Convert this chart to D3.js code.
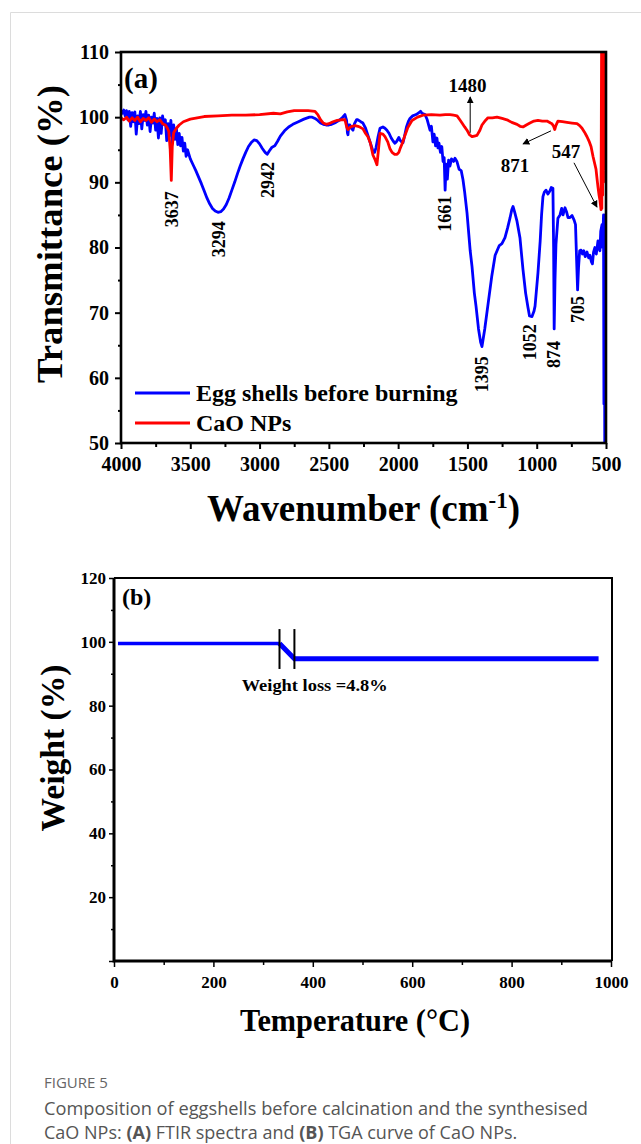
<!DOCTYPE html>
<meta charset="utf-8">
<style>
  body { margin: 0; background: #fff; }
  svg text { font-family: "Liberation Serif", "Times New Roman", serif; font-weight: bold; fill: #000; }
  svg .caption text { font-family: "Open Sans", "Noto Sans", sans-serif; font-weight: normal; fill: #555; }
</style>
<body>
<script src="https://d3js.org/d3.v7.min.js"></script>
<script>

// ---- panel (a) FTIR data: [wavenumber cm-1, transmittance %]
const eggShells = [
  [4000,101.0],[3990,100.6],[3980,101.1],[3970,100.2],[3960,101.0],[3950,99.6],[3940,100.9],[3930,98.6],
  [3920,100.7],[3910,99.3],[3900,100.8],[3890,97.4],[3880,100.2],[3870,99.0],[3860,100.9],[3850,98.2],
  [3840,100.4],[3830,99.5],[3820,100.9],[3810,98.8],[3800,100.3],[3790,97.8],[3780,100.0],[3770,99.1],
  [3760,100.6],[3750,98.0],[3740,99.8],[3730,96.8],[3720,99.9],[3710,97.5],[3700,100.2],[3690,98.9],
  [3680,99.6],[3670,96.4],[3660,99.0],[3650,97.2],[3640,99.5],[3630,96.0],[3620,98.8],[3610,96.6],
  [3600,98.2],[3590,95.8],[3580,97.5],[3570,95.6],[3560,96.9],[3550,94.8],[3540,96.0],[3530,94.0],
  [3520,95.0],[3500,93.6],[3480,92.7],[3460,91.8],[3440,90.8],[3420,89.8],[3400,88.7],[3380,87.6],
  [3360,86.7],[3340,86.0],[3320,85.6],[3300,85.4],[3280,85.5],[3260,85.9],[3240,86.6],[3220,87.6],
  [3200,88.8],[3180,90.0],[3160,91.3],[3140,92.5],[3120,93.6],[3100,94.6],[3080,95.5],[3060,96.1],
  [3040,96.5],[3020,96.4],[3000,95.9],[2980,95.2],[2960,94.6],[2945,94.3],[2930,94.8],[2910,95.4],
  [2890,95.6],[2870,96.3],[2850,97.1],[2820,97.9],[2790,98.5],[2760,98.9],[2720,99.3],[2680,99.7],
  [2640,100.0],[2620,100.0],[2600,99.8],[2580,99.5],[2560,99.1],[2540,98.9],[2520,98.8],[2500,98.8],
  [2480,98.9],[2450,99.2],[2420,99.6],[2400,100.0],[2384,100.4],[2372,99.5],[2366,97.6],[2362,97.3],
  [2356,98.8],[2348,98.8],[2338,98.3],[2326,98.0],[2315,99.0],[2300,99.6],[2290,99.6],[2270,99.3],
  [2254,99.1],[2235,98.3],[2218,97.2],[2200,96.0],[2185,95.0],[2170,94.6],[2160,95.3],[2145,97.0],
  [2131,98.3],[2110,98.5],[2095,98.3],[2081,98.0],[2065,97.5],[2050,96.8],[2035,96.3],[2023,96.0],
  [2010,96.3],[1995,96.9],[1987,96.5],[1975,96.2],[1965,96.1],[1955,97.0],[1940,98.5],[1925,99.4],
  [1915,99.8],[1895,100.2],[1870,100.4],[1850,100.7],[1838,100.9],[1828,100.6],[1806,100.4],[1790,99.6],
  [1770,98.0],[1760,98.6],[1749,96.2],[1740,97.4],[1730,95.6],[1720,96.8],[1713,95.3],[1705,96.0],
  [1695,94.6],[1685,95.5],[1676,93.2],[1668,93.8],[1661,88.8],[1654,92.8],[1645,90.5],[1636,93.4],
  [1626,92.5],[1615,93.6],[1600,93.2],[1590,93.7],[1576,93.2],[1560,92.0],[1545,91.8],[1532,90.4],
  [1520,88.5],[1503,85.3],[1490,82.0],[1480,79.5],[1467,77.1],[1450,73.0],[1438,71.0],[1420,67.5],
  [1405,65.5],[1395,64.8],[1375,67.5],[1350,71.5],[1325,75.5],[1300,78.8],[1270,80.3],[1251,80.6],
  [1229,81.5],[1210,83.0],[1193,84.5],[1180,85.8],[1171,86.3],[1160,85.5],[1142,84.0],[1121,81.5],
  [1099,76.6],[1080,73.0],[1063,70.8],[1052,69.5],[1034,69.4],[1020,70.2],[1012,71.0],[991,76.1],
  [975,81.0],[965,85.0],[955,87.8],[945,88.5],[933,88.8],[919,88.2],[904,88.7],[895,89.2],
  [883,89.1],[878,80.0],[874,67.5],[868,75.0],[861,80.5],[847,84.5],[832,85.0],[820,86.0],
  [810,85.0],[796,86.1],[785,85.5],[774,84.6],[760,84.6],[745,84.9],[730,84.2],[720,83.5],
  [712,78.0],[705,73.5],[698,77.0],[690,79.5],[680,79.6],[670,79.0],[660,79.5],[650,78.6],
  [637,79.3],[625,78.4],[616,78.8],[605,77.8],[598,77.5],[590,79.3],[580,80.0],[570,79.0],
  [558,81.0],[550,79.8],[544,79.5],[538,82.5],[529,83.5],[524,80.0],[518,85.0],[515,56.0],
  [512,84.0],[509,50.0],[506,85.0],[503,50.0],[500,50.0]
];

const caoNPs = [
  [4000,99.9],[3980,99.6],[3960,100.0],[3940,99.4],[3920,99.9],[3900,99.5],[3880,100.0],[3860,99.3],
  [3840,99.8],[3820,99.5],[3800,99.9],[3780,99.2],[3760,99.7],[3740,99.3],[3720,99.6],[3700,99.0],
  [3680,98.8],[3665,98.3],[3655,97.8],[3645,95.0],[3637,90.3],[3630,95.5],[3620,97.6],[3600,98.3],
  [3580,98.8],[3550,99.3],[3500,99.7],[3450,99.9],[3400,100.1],[3300,100.2],[3200,100.3],[3100,100.3],
  [3000,100.4],[2900,100.6],[2850,100.5],[2800,100.8],[2750,101.0],[2700,101.0],[2650,101.0],[2600,100.9],
  [2580,100.4],[2560,99.6],[2540,99.1],[2520,98.9],[2500,99.0],[2470,99.3],[2440,99.5],[2410,99.6],
  [2384,99.6],[2370,98.4],[2362,98.1],[2350,98.4],[2333,98.6],[2310,98.7],[2290,98.6],[2270,98.4],
  [2254,98.2],[2235,97.5],[2218,97.0],[2200,96.0],[2182,94.2],[2165,93.4],[2153,92.7],[2142,95.0],
  [2131,97.5],[2110,97.4],[2095,97.0],[2075,96.2],[2060,95.2],[2044,94.6],[2025,94.3],[2008,94.3],
  [1995,94.6],[1987,95.1],[1970,96.0],[1951,97.2],[1930,98.4],[1900,99.5],[1860,100.0],[1821,100.3],
  [1760,100.4],[1698,100.3],[1660,100.4],[1626,100.4],[1600,100.3],[1575,100.2],[1555,99.6],[1539,99.1],
  [1520,98.5],[1503,98.0],[1485,97.3],[1467,97.0],[1450,97.1],[1431,97.2],[1410,98.0],[1395,98.8],
  [1370,99.5],[1352,99.9],[1320,99.9],[1287,100.0],[1250,99.8],[1215,99.6],[1180,99.2],[1142,98.9],
  [1120,98.6],[1099,98.5],[1075,98.8],[1049,99.1],[1020,99.4],[991,99.5],[960,99.4],[926,99.4],
  [900,99.1],[890,99.0],[878,98.6],[870,98.1],[862,98.7],[847,99.4],[815,99.3],[782,99.2],
  [745,99.1],[709,99.0],[690,98.7],[673,98.3],[655,97.7],[637,97.0],[620,96.2],[608,95.5],
  [594,94.0],[583,93.0],[572,92.0],[565,90.6],[558,89.3],[550,88.0],[544,87.3],[536,85.8],
  [532,110],[530,86.0],[527,110],[524,88.0],[521,110],[518,90.0],[515,110],[512,92.0],
  [509,110],[506,95.0],[503,110],[500,110]
];

const ftirXTicks = [4000, 3500, 3000, 2500, 2000, 1500, 1000, 500];
const ftirXMinor = [3750, 3250, 2750, 2250, 1750, 1250, 750];
const ftirYTicks = [50, 60, 70, 80, 90, 100, 110];
const ftirYMinor = [55, 65, 75, 85, 95, 105];
const ftirSeries = ["Egg shells before burning", "CaO NPs"];

// rotated peak labels: wavenumber, transmittance where the label starts
const peakWn = [3637, 3294, 2942, 1661, 1395, 1052, 874, 705];
const peakLabelT = [83.1, 78.5, 87.6, 82.4, 57.8, 62.7, 61.5, 68.4];

// arrow labels: text, label point, arrow from, arrow to
const arrowText = ["1480", "871", "547"];
const arrowLabelAt = [[1500, 103.9], [1157, 91.6], [789, 93.7]];
const arrowFrom = [[1480, 97.6], [897, 97.9], [731, 93.0]];
const arrowTo = [[1480, 103.1], [1099, 95.9], [565, 86.2]];

// ---- panel (b) TGA data: [temperature C, weight %]
const tga = [[8, 99.5], [333, 99.5], [363, 94.7], [975, 94.7]];
const tgaMarkTemps = [333, 363];
const tgaMarkRange = [91.5, 104];
const tgaXTicks = [0, 200, 400, 600, 800, 1000];
const tgaXMinor = [100, 300, 500, 700, 900];
const tgaYTicks = [0, 20, 40, 60, 80, 100, 120];
const tgaYMinor = [10, 30, 50, 70, 90, 110];

const W = 641, H = 1144;

let svg = d3.select("body").append("svg")
    .attr("width", W)
    .attr("height", H);

svg.append("rect").attr("width", W).attr("height", H).attr("fill", "#fff");

// card border
svg.append("path")
    .attr("d", `M10.5,${H} V12.5 H${W}`)
    .attr("fill", "none")
    .attr("stroke", "#dcdcdc")
    .attr("stroke-width", 1);

svg.append("defs").append("marker")
    .attr("id", "arrow")
    .attr("viewBox", "0 0 10 10")
    .attr("refX", 9).attr("refY", 5)
    .attr("markerWidth", 7).attr("markerHeight", 7)
    .attr("markerUnits", "userSpaceOnUse")
    .attr("orient", "auto")
  .append("path")
    .attr("d", "M0,0 L10,5 L0,10 z")
    .attr("fill", "#000");

function styleAxis(g, fontSize, width) {
  g.select(".domain").remove();
  g.selectAll("line").attr("stroke", "#000").attr("stroke-width", width);
  g.attr("font-family", null).attr("font-size", null);
  g.selectAll("text").style("font-size", fontSize + "px");
}

// ================= panel (a) =================
const x1 = d3.scaleLinear().domain([4000, 500]).range([121, 606]);
const y1 = d3.scaleLinear().domain([50, 110]).range([443, 52]);

svg.append("clipPath").attr("id", "clipA")
  .append("rect")
    .attr("x", x1.range()[0]).attr("y", y1.range()[1])
    .attr("width", x1.range()[1] - x1.range()[0])
    .attr("height", y1.range()[0] - y1.range()[1]);

let line1 = d3.line().x(d => x1(d[0])).y(d => y1(d[1]));

let curves = svg.append("g").attr("clip-path", "url(#clipA)");
curves.append("path")
    .datum(eggShells)
    .attr("d", line1)
    .attr("fill", "none")
    .attr("stroke", "#0000ff")
    .attr("stroke-width", 2.8)
    .attr("stroke-linejoin", "round");
curves.append("path")
    .datum(caoNPs)
    .attr("d", line1)
    .attr("fill", "none")
    .attr("stroke", "#ff0000")
    .attr("stroke-width", 2.8)
    .attr("stroke-linejoin", "round");

// frame
svg.append("rect")
    .attr("x", x1.range()[0]).attr("y", y1.range()[1])
    .attr("width", x1.range()[1] - x1.range()[0])
    .attr("height", y1.range()[0] - y1.range()[1])
    .attr("fill", "none")
    .attr("stroke", "#000")
    .attr("stroke-width", 2.6);

// axes
svg.append("g")
    .attr("transform", `translate(0,${y1.range()[0]})`)
    .call(d3.axisBottom(x1).tickValues(ftirXTicks).tickSize(6).tickPadding(8).tickFormat(d3.format("d")))
    .call(g => styleAxis(g, 20, 2));
svg.append("g")
    .attr("transform", `translate(0,${y1.range()[0]})`)
    .call(d3.axisBottom(x1).tickValues(ftirXMinor).tickSize(4).tickFormat(""))
    .call(g => styleAxis(g, 20, 2));
svg.append("g")
    .attr("transform", `translate(${x1.range()[0]},0)`)
    .call(d3.axisLeft(y1).tickValues(ftirYTicks).tickSize(6).tickPadding(6))
    .call(g => styleAxis(g, 20, 2));
svg.append("g")
    .attr("transform", `translate(${x1.range()[0]},0)`)
    .call(d3.axisLeft(y1).tickValues(ftirYMinor).tickSize(3).tickFormat(""))
    .call(g => styleAxis(g, 20, 2));

// axis titles
svg.append("text")
    .attr("transform", `translate(62,234) rotate(-90)`)
    .attr("text-anchor", "middle")
    .attr("textLength", 298)
    .attr("lengthAdjust", "spacingAndGlyphs")
    .style("font-size", "36px")
    .text("Transmittance (%)");

let xt = svg.append("text")
    .attr("x", 207).attr("y", 521)
    .attr("textLength", 313)
    .attr("lengthAdjust", "spacingAndGlyphs")
    .style("font-size", "37px");
xt.append("tspan").text("Wavenumber (cm");
xt.append("tspan").attr("dy", -13).style("font-size", "23px").text("-1");
xt.append("tspan").attr("dy", 13).text(")");

svg.append("text")
    .attr("x", 124).attr("y", 88)
    .style("font-size", "29px")
    .text("(a)");

// peak labels (rotated)
svg.append("g").selectAll("text")
  .data(peakWn)
  .join("text")
    .attr("transform", (d, i) => `translate(${x1(d)},${y1(peakLabelT[i])}) rotate(-90)`)
    .attr("dy", "0.35em")
    .style("font-size", "18px")
    .text(d => d);

// arrow labels
svg.append("g").selectAll("text")
  .data(arrowText)
  .join("text")
    .attr("x", (d, i) => x1(arrowLabelAt[i][0]))
    .attr("y", (d, i) => y1(arrowLabelAt[i][1]))
    .attr("text-anchor", "middle")
    .style("font-size", "19px")
    .text(d => d);

svg.append("g").selectAll("line")
  .data(arrowText)
  .join("line")
    .attr("x1", (d, i) => x1(arrowFrom[i][0]))
    .attr("y1", (d, i) => y1(arrowFrom[i][1]))
    .attr("x2", (d, i) => x1(arrowTo[i][0]))
    .attr("y2", (d, i) => y1(arrowTo[i][1]))
    .attr("stroke", "#000")
    .attr("stroke-width", 1)
    .attr("marker-end", "url(#arrow)");

// legend
let legend = svg.append("g").selectAll("g")
  .data(ftirSeries)
  .join("g")
    .attr("transform", (d, i) => `translate(135,${393 + i * 30})`);
legend.append("line")
    .attr("x1", 0).attr("x2", 55)
    .attr("stroke", (d, i) => i === 0 ? "#0000ff" : "#ff0000")
    .attr("stroke-width", 2.8);
legend.append("text")
    .attr("x", 61).attr("y", 8)
    .style("font-size", "24px")
    .text(d => d);

// ================= panel (b) =================
const x2 = d3.scaleLinear().domain([0, 1000]).range([114, 611]);
const y2 = d3.scaleLinear().domain([0, 120]).range([961, 578]);

let line2 = d3.line().x(d => x2(d[0])).y(d => y2(d[1]));

// frame top/right
svg.append("path")
    .attr("d", `M${x2.range()[0]},${y2.range()[1]} H${x2.range()[1] + 1} V${y2.range()[0]}`)
    .attr("fill", "none")
    .attr("stroke", "#000")
    .attr("stroke-width", 2);

svg.append("path")
    .datum(tga.slice(0, 2))
    .attr("d", line2)
    .attr("fill", "none")
    .attr("stroke", "#0000ff")
    .attr("stroke-width", 3.5);
svg.append("path")
    .datum(tga.slice(1))
    .attr("d", line2)
    .attr("fill", "none")
    .attr("stroke", "#0000ff")
    .attr("stroke-width", 5);

svg.append("g").selectAll("line")
  .data(tgaMarkTemps)
  .join("line")
    .attr("x1", d => x2(d)).attr("x2", d => x2(d))
    .attr("y1", y2(tgaMarkRange[0])).attr("y2", y2(tgaMarkRange[1]))
    .attr("stroke", "#000")
    .attr("stroke-width", 2);

svg.append("text")
    .attr("x", x2(257)).attr("y", y2(84.6))
    .attr("textLength", 146)
    .attr("lengthAdjust", "spacingAndGlyphs")
    .style("font-size", "17px")
    .text("Weight loss =4.8%");

svg.append("text")
    .attr("x", 122).attr("y", 605)
    .style("font-size", "24px")
    .text("(b)");

// axis lines
svg.append("path")
    .attr("d", `M${x2.range()[0]},${y2.range()[1]} V${y2.range()[0]} H${x2.range()[1] + 1}`)
    .attr("fill", "none")
    .attr("stroke", "#000")
    .attr("stroke-width", 3);

svg.append("g")
    .attr("transform", `translate(0,${y2.range()[0]})`)
    .call(d3.axisBottom(x2).tickValues(tgaXTicks).tickSize(6).tickPadding(9).tickFormat(d3.format("d")))
    .call(g => styleAxis(g, 17, 1.5));
svg.append("g")
    .attr("transform", `translate(0,${y2.range()[0]})`)
    .call(d3.axisBottom(x2).tickValues(tgaXMinor).tickSize(4).tickFormat(""))
    .call(g => styleAxis(g, 17, 1.5));
svg.append("g")
    .attr("transform", `translate(${x2.range()[0]},0)`)
    .call(d3.axisLeft(y2).tickValues(tgaYTicks).tickSize(5).tickPadding(3).tickFormat(d => d === 0 ? "" : d))
    .call(g => styleAxis(g, 17, 1.5));
svg.append("g")
    .attr("transform", `translate(${x2.range()[0]},0)`)
    .call(d3.axisLeft(y2).tickValues(tgaYMinor).tickSize(3).tickFormat(""))
    .call(g => styleAxis(g, 17, 1.5));

svg.append("text")
    .attr("transform", `translate(64,748) rotate(-90)`)
    .attr("text-anchor", "middle")
    .attr("textLength", 167)
    .attr("lengthAdjust", "spacingAndGlyphs")
    .style("font-size", "33px")
    .text("Weight (%)");

svg.append("text")
    .attr("x", 355).attr("y", 1031)
    .attr("text-anchor", "middle")
    .attr("textLength", 230)
    .attr("lengthAdjust", "spacingAndGlyphs")
    .style("font-size", "31px")
    .text("Temperature (°C)");

// ================= caption =================
let cap = svg.append("g").attr("class", "caption");
cap.append("text")
    .attr("x", 44).attr("y", 1088)
    .style("font-size", "15px")
    .style("fill", "#666")
    .text("FIGURE 5");
cap.append("text")
    .attr("x", 44).attr("y", 1115)
    .attr("textLength", 544)
    .attr("lengthAdjust", "spacingAndGlyphs")
    .style("font-size", "18px")
    .text("Composition of eggshells before calcination and the synthesised");
let cap2 = cap.append("text")
    .attr("x", 44).attr("y", 1139)
    .style("font-size", "18px");
cap2.append("tspan").text("CaO NPs: ");
cap2.append("tspan").style("font-weight", "bold").text("(A)");
cap2.append("tspan").text(" FTIR spectra and ");
cap2.append("tspan").style("font-weight", "bold").text("(B)");
cap2.append("tspan").text(" TGA curve of CaO NPs.");

</script>
